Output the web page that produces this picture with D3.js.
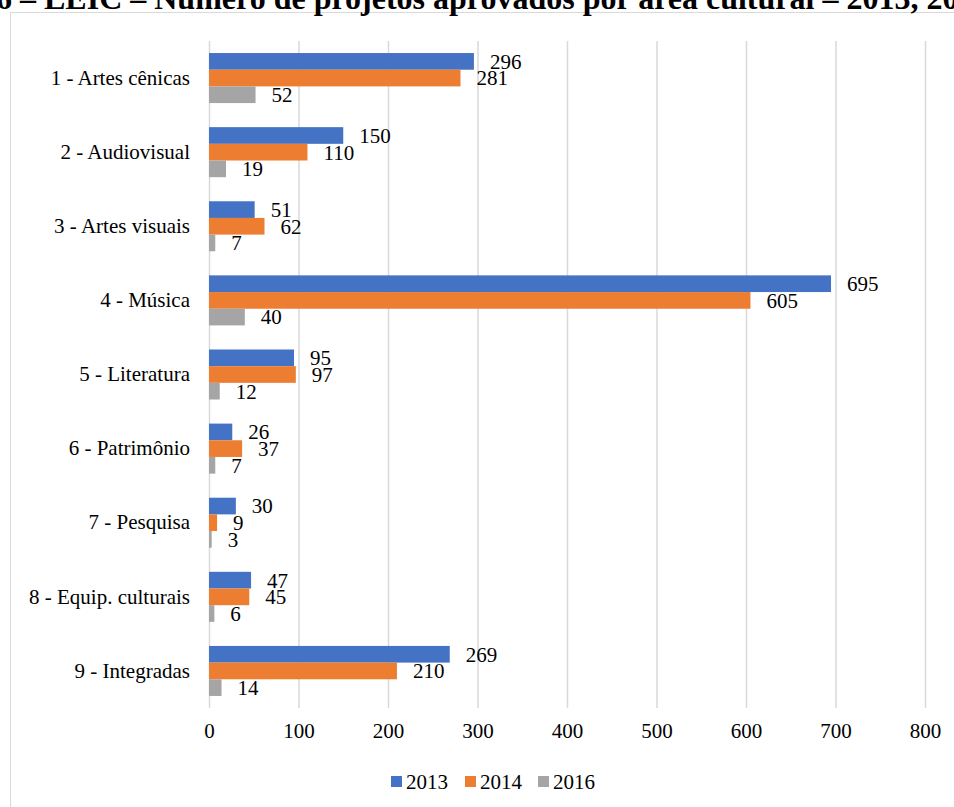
<!DOCTYPE html>
<html lang="pt">
	<head>
		<meta charset="utf-8">
		<title>LEIC - projetos aprovados por área cultural</title>
		<script type="text/javascript" src="https://cdn.jsdelivr.net/npm/d3@7"></script>
		<style type="text/css">
			body {
				margin: 0;
				background-color: white;
			}
			svg text {
				font-family: "Liberation Serif", "Times New Roman", serif !important;
			}
		</style>
	</head>
	<body>
		<script type="text/javascript">

			var categorias = ["1 - Artes cênicas", "2 - Audiovisual", "3 - Artes visuais", "4 - Música",
				"5 - Literatura", "6 - Patrimônio", "7 - Pesquisa", "8 - Equip. culturais", "9 - Integradas"];
			var anos = ["2013", "2014", "2016"];
			var v2013 = [296, 150, 51, 695, 95, 26, 30, 47, 269];
			var v2014 = [281, 110, 62, 605, 97, 37, 9, 45, 210];
			var v2016 = [52, 19, 7, 40, 12, 7, 3, 6, 14];
			var ticks = [0, 100, 200, 300, 400, 500, 600, 700, 800];
			var cores = ["#4472c4", "#ed7d31", "#a5a5a5"];

			var series = [v2013, v2014, v2016];

			var w = 954, h = 807;
			var fs = 21;

			var svg = d3.select("body")
				.append("svg")
				.attr("width", w)
				.attr("height", h);

			// moldura do gráfico (cortada à direita e embaixo)
			svg.append("rect")
				.attr("x", 10.5)
				.attr("y", 12.5)
				.attr("width", 960)
				.attr("height", 810)
				.attr("fill", "white")
				.attr("stroke", "#d9d9d9")
				.attr("stroke-width", 1);

			// título, só aparece a parte de baixo
			svg.append("text")
				.attr("x", 12)
				.attr("y", 9)
				.attr("text-anchor", "end")
				.attr("font-weight", "bold")
				.attr("font-size", 32)
				.text("Gráfico 6");
			svg.append("text")
				.attr("x", 20)
				.attr("y", 9)
				.attr("font-weight", "bold")
				.attr("font-size", 32)
				.text("– LEIC – Número de projetos aprovados por área cultural – 2013, 2014 e 2016");

			var x = d3.scaleLinear()
				.domain([0, 800])
				.range([209, 925]);

			var y = d3.scaleBand()
				.domain(categorias)
				.range([41, 708])
				.paddingInner(0.325)
				.paddingOuter(0.1625);

			var yAno = d3.scaleBand()
				.domain(anos)
				.range([0, y.bandwidth()]);

			// grade vertical
			svg.append("g")
				.selectAll("line")
				.data(ticks)
				.enter()
				.append("line")
				.attr("x1", function(d) { return x(d) + 0.5; })
				.attr("x2", function(d) { return x(d) + 0.5; })
				.attr("y1", 41)
				.attr("y2", 708)
				.attr("stroke", "#d9d9d9")
				.attr("stroke-width", 1.5);

			// eixo x
			var eixoX = svg.append("g")
				.attr("transform", "translate(0,708)")
				.call(d3.axisBottom(x).tickValues(ticks).tickSize(0).tickPadding(15));
			eixoX.select(".domain").remove();
			eixoX.selectAll("text")
				.attr("font-size", fs)
				.attr("fill", "black");

			// eixo y
			var eixoY = svg.append("g")
				.attr("transform", "translate(209,0)")
				.call(d3.axisLeft(y).tickSize(0).tickPadding(19));
			eixoY.select(".domain").remove();
			eixoY.selectAll("text")
				.attr("font-size", fs)
				.attr("fill", "black");

			var grupos = svg.append("g")
				.selectAll("g")
				.data(categorias)
				.enter()
				.append("g")
				.attr("transform", function(d) { return "translate(0," + y(d) + ")"; });

			grupos.selectAll("rect")
				.data(function(d, i) {
					return anos.map(function(a, j) { return { ano: a, valor: series[j][i], cor: cores[j] }; });
				})
				.enter()
				.append("rect")
				.attr("x", x(0))
				.attr("y", function(d) { return yAno(d.ano); })
				.attr("width", function(d) { return x(d.valor) - x(0); })
				.attr("height", yAno.bandwidth())
				.attr("fill", function(d) { return d.cor; });

			grupos.selectAll("text")
				.data(function(d, i) {
					return anos.map(function(a, j) { return { ano: a, valor: series[j][i] }; });
				})
				.enter()
				.append("text")
				.attr("x", function(d) { return x(d.valor) + 16; })
				.attr("y", function(d) { return yAno(d.ano) + yAno.bandwidth() / 2; })
				.attr("dy", "0.35em")
				.attr("font-size", fs)
				.attr("fill", "black")
				.text(function(d) { return d.valor; });

			// legenda
			var legX = [391, 465, 538];
			var leg = svg.append("g")
				.selectAll("g")
				.data(anos)
				.enter()
				.append("g")
				.attr("transform", function(d, i) { return "translate(" + legX[i] + ",776)"; });
			leg.append("rect")
				.attr("width", 11)
				.attr("height", 11)
				.attr("fill", function(d, i) { return cores[i]; });
			leg.append("text")
				.attr("x", 15)
				.attr("y", 6)
				.attr("dy", "0.35em")
				.attr("font-size", fs)
				.text(function(d) { return d; });

		</script>
	</body>
</html>
